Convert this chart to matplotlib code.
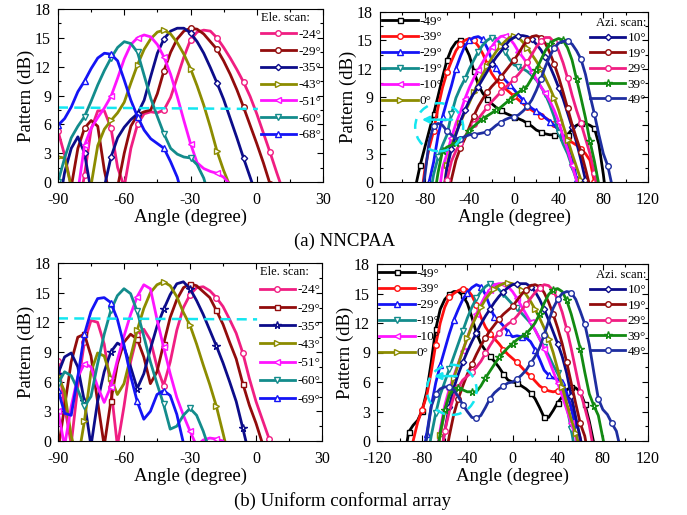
import numpy as np
import matplotlib
matplotlib.use('Agg')
import matplotlib.pyplot as plt
from matplotlib.patches import Ellipse

plt.rcParams['font.family'] = ['Liberation Serif', 'DejaVu Serif']
plt.rcParams['axes.unicode_minus'] = False

# ---------------- data ----------------
ELE_ANGLES = [-90, -87, -84, -81, -78, -75, -72, -69, -66, -63, -60, -57, -54, -51, -48,
              -45, -42, -39, -36, -33, -30, -27, -24, -21, -18, -15, -12, -9, -6, -3,
              0, 3, 6, 9, 12]

# (a) NNCPAA, elevation scan
TL_LABELS = ['-24°', '-29°', '-35°', '-43°', '-51°', '-60°', '-68°']
TL_M24 = [5.3, 2.8, -0.5, -3, 0.7, 5.5, 7.4, 7.4, 5.6, 1.5, -0.5, 3.5, 6.0, 7.1, 7.3, 7.2, 7.5, 8.8,
          10.9, 13.0, 14.8, 15.6, 15.8, 15.7, 15.0, 14.0, 12.9, 11.7, 10.4, 8.9, 7.1, 5.1, 3.1, 1.0, -1.0]
TL_M29 = [-3, -3, -0.5, 3.5, 5.6, 6.4, 5.8, 1.2, -2, -0.5, 3.0, 5.8, 7.0, 7.3, 7.5, 9.2, 11.6, 13.5,
          14.9, 15.7, 16.0, 15.9, 15.4, 14.6, 13.8, 12.6, 11.2, 9.6, 7.8, 5.9, 4.0, 2.0, -0.2, -2.5, -3]
TL_M35 = [-3, 1.0, 3.5, 4.7, 3.0, -1, -3, -0.5, 2.6, 4.6, 5.7, 6.5, 7.1, 8.5, 11.0, 13.4, 14.9, 15.7,
          16.0, 16.0, 15.5, 14.6, 13.4, 11.9, 10.3, 8.6, 6.6, 4.6, 2.5, 0.5, -1.5, -3, -3, -3, -3]
TL_M43 = [2.6, 2.5, -0.5, -3, -3, -0.3, 3.8, 5.5, 6.4, 7.2, 8.3, 10.3, 12.2, 13.8, 14.9, 15.6, 15.8, 15.4,
          14.5, 13.3, 11.8, 10.0, 8.0, 5.7, 3.2, 1.2, -0.5, -3, -3, -3, -3, -3, -3, -3, -3]
TL_M51 = [-3, -3, -3, -1.0, 3.8, 5.6, 6.7, 7.7, 8.9, 10.8, 12.8, 14.3, 15.0, 15.3, 15.1, 14.3, 13.0, 11.2,
          8.9, 6.4, 4.0, 2.0, 1.4, 1.1, 0.9, 0.5, -0.3, -2, -3, -3, -3, -3, -3, -3, -3]
TL_M60 = [0.0, 2.5, 4.6, 5.8, 6.8, 8.4, 10.1, 11.6, 12.9, 14.0, 14.6, 14.4, 13.5, 11.1, 8.7, 6.8, 5.0, 3.5,
          2.9, 2.6, 2.5, 1.8, 0.4, -2, -3, -3, -3, -3, -3, -3, -3, -3, -3, -3, -3]
TL_M68 = [5.9, 6.6, 7.8, 9.4, 10.5, 11.8, 12.9, 13.4, 13.3, 12.6, 10.6, 8.5, 6.8, 5.4, 4.5, 4.0, 3.5, 2.1,
          0.5, -2, -3, -3, -3, -3, -3, -3, -3, -3, -3, -3, -3, -3, -3, -3, -3]
TL_REF_X = [-90, 0.5]
TL_REF_Y = [7.75, 7.6]

# (b) Uniform conformal array, elevation scan
BL_LABELS = ['-24°', '-29°', '-35°', '-43°', '-51°', '-60°', '-69°']
BL_M24 = [8.1, 3.5, -0.3, 5.5, 10.0, 12.2, 12.0, 9.8, 5.5, -0.5, 3.5, 8.0, 10.7, 11.3, 10.2, 7.5, 5.6, 8.0,
          11.2, 13.5, 14.8, 15.5, 15.6, 15.2, 14.5, 13.6, 12.3, 10.9, 8.9, 6.3, 4.0, 2.1, 0.2, -2, -3]
BL_M29 = [-1, 3.5, 8.0, 10.5, 10.8, 8.6, 4.0, -0.5, 4.0, 7.8, 10.0, 10.8, 10.3, 8.5, 5.8, 7.0, 9.8, 12.5,
          14.3, 15.5, 15.9, 15.7, 15.1, 14.5, 13.2, 11.8, 10.0, 8.3, 5.8, 3.6, 1.8, -0.3, -3, -3, -3]
BL_M35 = [6.8, 8.5, 8.9, 7.5, 4.0, -0.5, 4.0, 7.0, 9.0, 9.9, 9.5, 7.5, 5.3, 6.8, 9.3, 11.6, 13.3, 14.8,
          15.9, 16.1, 15.4, 14.2, 12.8, 11.2, 9.6, 7.9, 6.0, 4.0, 1.3, -1.5, -3, -3, -3, -3, -3]
BL_M43 = [6.6, 5.0, 0.5, -2.0, 2.0, 7.0, 8.9, 8.6, 6.4, 4.7, 5.8, 8.5, 11.2, 13.4, 15.0, 15.8, 16.1, 15.7,
          14.6, 13.0, 11.7, 9.8, 7.7, 5.7, 3.5, 0.8, -2, -3, -3, -3, -3, -3, -3, -3, -3]
BL_M51 = [3.0, -0.5, 3.5, 6.5, 7.8, 7.5, 5.5, 3.9, 5.5, 8.2, 10.6, 12.8, 14.6, 15.8, 15.4, 12.3, 9.5, 6.8,
          4.4, 2.6, 1.0, -0.5, 0.1, 0.3, 0.2, 0.0, -1, -3, -3, -3, -3, -3, -3, -3, -3]
BL_M60 = [5.8, 7.0, 6.6, 5.2, 3.5, 4.5, 7.8, 10.8, 13.2, 14.7, 15.4, 14.9, 13.1, 10.6, 8.0, 5.8, 3.7, 1.2,
          1.5, 2.6, 3.3, 2.6, 1.0, -1, -3, -3, -3, -3, -3, -3, -3, -3, -3, -3, -3]
BL_M69 = [5.2, 2.8, 2.6, 6.5, 10.8, 13.1, 14.4, 14.5, 14.0, 12.3, 9.7, 6.6, 4.0, 2.2, 3.0, 4.7, 5.1, 4.6,
          2.7, -0.2, -3, -3, -3, -3, -3, -3, -3, -3, -3, -3, -3, -3, -3, -3, -3]
BL_REF_X = [-90, 0.5]
BL_REF_Y = [12.4, 12.3]

# azimuth scans: (first sampled angle, values every AZI_STEP degrees)
AZI_STEP = 4
AZI_LABELS = ['-49°', '-39°', '-29°', '-19°', '-10°', '0°', '10°', '19°', '29°', '39°', '49°']

TR_DATA = [
    (-88, [-0.4, 1.8, 3.6, 5.4, 7.2, 9.1, 11.1, 12.9, 14.1, 14.8, 15.0, 14.4, 13.4, 11.8, 10.3, 9.4, 8.8,
           8.3, 7.9, 7.6, 7.3, 7.1, 6.9, 6.7, 6.5, 6.2, 5.9, 5.5, 5.3, 5.1, 5.0, 5.0, 4.9, 4.8, 5.0, 5.6,
           6.0, 6.2, 6.2, 6.0, 5.7, 4.0, 0.8, -3]),
    (-84, [-2.5, 1.2, 3.6, 5.4, 7.9, 10.0, 11.6, 12.8, 13.9, 14.6, 15.0, 15.2, 15.0, 14.4, 13.6, 12.5,
           11.5, 10.8, 10.3, 9.9, 9.5, 9.1, 8.7, 8.3, 7.9, 7.6, 7.3, 7.0, 6.8, 6.5, 6.1, 5.5, 4.9, 4.5,
           4.2, 3.9, 3.5, 3.0, 2.3, 0.0, -3]),
    (-80, [-2, 0.0, 2.1, 4.9, 6.9, 8.6, 10.2, 12.0, 13.3, 14.4, 15.0, 15.3, 15.4, 15.1, 14.2, 13.0, 12.1,
           11.4, 10.8, 10.3, 9.8, 9.2, 8.7, 8.2, 7.8, 7.5, 7.2, 6.8, 6.4, 6.0, 5.5, 4.8, 4.0, 2.8, 0.3, -3]),
    (-76, [-2, 0.8, 2.6, 3.9, 5.0, 7.2, 8.9, 10.0, 10.9, 12.0, 12.9, 13.8, 14.5, 15.0, 15.3, 15.2, 14.6,
           13.8, 13.0, 12.4, 12.2, 12.0, 11.7, 11.3, 10.8, 10.1, 9.3, 8.2, 6.9, 5.2, 4.0, 3.0, 1.6, 0.2, -3]),
    (-68, [-2, 1.5, 3.0, 4.7, 6.2, 7.4, 8.8, 10.0, 11.0, 11.9, 12.7, 13.5, 14.3, 15.0, 15.4, 15.5, 15.2,
           14.6, 13.8, 13.2, 12.5, 11.7, 10.9, 10.1, 9.4, 8.6, 7.6, 6.4, 4.8, 3.4, 1.8, 0.2, -3]),
    (-64, [-2, 1.8, 3.8, 5.2, 6.3, 7.4, 8.4, 9.5, 10.5, 11.4, 12.3, 13.1, 13.8, 14.4, 14.9, 15.3, 15.5,
           15.3, 14.8, 14.2, 13.5, 12.8, 12.0, 11.0, 10.0, 8.9, 7.6, 6.0, 4.5, 3.0, 1.6, 0.2, -3]),
    (-64, [-2, 1.5, 3.5, 5.0, 6.4, 7.6, 8.6, 9.4, 10.1, 10.9, 11.7, 12.5, 13.2, 13.8, 14.4, 15.0, 15.3,
           15.5, 15.5, 15.4, 15.1, 14.6, 14.0, 13.2, 12.3, 11.2, 10.0, 8.8, 7.3, 5.8, 4.2, 2.3, 0.2, -3]),
    (-60, [-2, 0.3, 2.3, 3.6, 4.6, 5.8, 7.0, 8.0, 8.8, 9.5, 10.1, 10.6, 11.1, 11.7, 12.3, 12.9, 13.6,
           14.4, 15.0, 15.4, 15.5, 15.3, 14.7, 13.7, 12.5, 11.1, 9.5, 7.8, 6.1, 4.6, 3.2, 1.4, -0.5, -3]),
    (-64, [-2, 0.2, 2.2, 3.3, 4.1, 4.8, 5.5, 6.1, 6.7, 7.3, 7.9, 8.5, 9.0, 9.5, 10.0, 10.4, 10.9, 11.4,
           12.0, 12.7, 13.5, 14.3, 14.9, 15.3, 15.3, 14.8, 13.9, 12.6, 11.0, 9.2, 7.6, 6.2, 4.6, 3.0, 1.0,
           -2]),
    (-72, [-2, 1.0, 3.3, 3.7, 3.9, 4.1, 4.4, 4.8, 5.4, 5.9, 6.3, 6.7, 7.0, 7.3, 7.6, 7.9, 8.3, 8.7, 9.1,
           9.5, 9.8, 10.2, 11.0, 11.9, 12.9, 13.9, 14.6, 15.0, 15.2, 15.0, 14.2, 12.9, 10.9, 8.9, 6.8, 4.3,
           2.2, -0.3, -3]),
    (-84, [-2, 0.5, 4.3, 5.9, 6.2, 6.0, 5.4, 5.0, 4.6, 4.6, 4.8, 5.0, 5.0, 5.1, 5.2, 5.3, 5.6, 6.0, 6.3,
           6.6, 6.8, 6.9, 7.1, 7.5, 8.0, 8.7, 9.7, 10.9, 12.2, 13.3, 14.2, 14.7, 14.9, 14.9, 14.6, 13.9,
           13.0, 11.4, 9.2, 7.2, 5.0, 3.0, 1.7, -0.5, -3]),
]

BR_DATA = [
    (-96, [-2, 0.9, 1.6, 2.1, 3.1, 5.0, 8.0, 11.4, 13.4, 14.4, 14.9, 15.2, 15.2, 14.8, 14.0, 12.6, 11.0,
           9.9, 9.2, 8.6, 8.1, 7.5, 6.8, 6.2, 6.0, 5.9, 5.6, 5.3, 4.9, 4.3, 3.4, 2.4, 2.4, 3.1, 3.9, 4.5,
           5.2, 5.5, 5.4, 5.0, 3.8, 2.0, -0.2, -3]),
    (-92, [-3, 0.0, 1.9, 3.2, 4.6, 7.0, 9.8, 12.0, 13.6, 14.6, 15.0, 15.3, 15.5, 15.4, 14.8, 13.8, 12.6,
           11.6, 10.9, 10.4, 9.9, 9.3, 8.8, 8.4, 8.0, 7.5, 7.0, 6.6, 6.1, 5.6, 5.3, 5.1, 5.0, 5.1, 5.3, 4.6,
           3.5, 2.0, 0.3, -2]),
    (-80, [-2, 0.7, 3.5, 5.9, 7.7, 9.3, 10.9, 12.3, 13.4, 14.4, 15.1, 15.6, 15.9, 15.7, 14.9, 13.7, 12.6,
           12.2, 11.7, 11.1, 10.6, 10.7, 10.6, 10.5, 10.1, 9.3, 8.3, 7.2, 6.7, 6.4, 6.3, 6.0, 4.9, 3.4, 1.2,
           -2]),
    (-76, [-2, 0.5, 2.8, 4.7, 6.0, 7.3, 8.6, 9.9, 11.2, 12.5, 13.6, 14.5, 15.2, 15.7, 16.0, 15.9, 15.4,
           14.9, 14.4, 13.9, 13.5, 13.0, 12.5, 12.0, 11.3, 10.4, 9.6, 8.7, 7.7, 6.9, 5.8, 3.6, 1.2, -1.5]),
    (-68, [-2, 1.2, 3.6, 5.3, 6.6, 7.9, 9.2, 10.5, 11.8, 12.9, 13.9, 14.8, 15.4, 15.9, 16.0, 16.0, 15.7,
           15.2, 14.5, 13.7, 12.9, 12.1, 11.3, 10.4, 9.4, 8.3, 7.1, 5.9, 4.6, 3.2, 1.8, 0.4, -2]),
    (-68, [-2, 0.6, 3.0, 4.9, 6.4, 7.8, 9.2, 10.5, 11.7, 12.7, 13.6, 14.4, 15.0, 15.5, 15.8, 16.0, 16.1,
           16.0, 15.8, 15.4, 14.9, 14.2, 13.4, 12.5, 11.5, 10.4, 9.0, 7.3, 5.5, 3.8, 2.2, 0.8, -1]),
    (-64, [-2, 1.0, 3.5, 5.4, 6.8, 8.0, 9.1, 10.1, 11.0, 11.9, 12.7, 13.4, 14.1, 14.7, 15.2, 15.6, 15.9,
           16.0, 16.0, 16.0, 15.7, 15.2, 14.4, 13.4, 12.3, 11.1, 9.9, 8.6, 6.9, 4.6, 2.4, 0.3, -2]),
    (-60, [-2, 0.5, 2.7, 4.3, 5.6, 6.8, 7.8, 8.8, 9.7, 10.5, 11.2, 11.8, 12.4, 12.9, 13.3, 13.7, 14.3,
           14.9, 15.4, 15.8, 15.9, 15.7, 15.1, 14.1, 12.9, 11.5, 9.9, 8.0, 5.9, 3.8, 1.8, 0.5, -2]),
    (-64, [-2, 1.0, 3.0, 4.5, 5.5, 6.2, 6.6, 7.0, 7.5, 8.1, 8.9, 9.7, 10.4, 11.0, 11.5, 11.9, 12.2, 12.7,
           13.3, 13.9, 14.5, 15.1, 15.6, 15.9, 15.8, 15.3, 14.4, 13.1, 11.4, 9.4, 7.2, 5.0, 3.4, 1.6, -1]),
    (-68, [-2, 0.8, 3.2, 4.6, 5.3, 5.4, 5.2, 5.0, 5.0, 5.0, 5.6, 6.4, 7.1, 7.8, 8.5, 9.0, 9.5, 9.9, 10.3,
           10.6, 10.9, 11.4, 12.0, 12.9, 14.0, 14.9, 15.4, 15.5, 15.2, 14.3, 12.9, 11.2, 9.4, 7.0, 4.8, 3.6,
           2.6, 0.3, -2]),
    (-80, [-2, 0.3, 3.5, 4.8, 5.3, 5.5, 5.5, 5.2, 4.5, 3.7, 3.0, 2.4, 2.3, 2.6, 3.4, 4.3, 4.9, 5.3, 5.6,
           5.9, 6.0, 6.3, 6.7, 7.2, 7.9, 8.6, 9.5, 10.8, 12.2, 13.5, 14.4, 15.0, 15.2, 15.1, 14.4, 13.2,
           11.9, 9.8, 7.0, 4.3, 3.2, 2.7, 1.8, 1.0, -1]),
]

# annotation geometry (data units)
TR_ELLIPSE = (-67.0, 5.8, 43.0, 5.1)
TR_ARROW = ((-53.0, 6.6), (-85.0, 6.6))
BR_ELLIPSE = (-53.8, 5.2, 44.0, 5.1)
BR_ARROW = ((-47.0, 6.6), (-72.0, 6.6))

# ---------------- styles ----------------
PINK = '#F01E82'
DRED = '#920C0C'
NAVY = '#0C0C8A'
OLIVE = '#8C8C00'
MAG = '#FF14FF'
TEAL = '#138C8C'
BLUE = '#1414F5'
BLACK = '#000000'
RED = '#FF1010'
GREEN = '#128A12'
DBLUE = '#1E2EA0'
CYAN = '#14E6F0'

TL_STY = [(PINK, 'o'), (DRED, 'o'), (NAVY, 'D'), (OLIVE, '>'), (MAG, '<'), (TEAL, 'v'), (BLUE, '^')]
BL_STY = [(PINK, 'o'), (DRED, 's'), (NAVY, '*'), (OLIVE, '>'), (MAG, '<'), (TEAL, 'v'), (BLUE, '^')]
AZ_STY = [(BLACK, 's', 1), (RED, 'o', 0), (BLUE, '^', 1), (TEAL, 'v', 2), (MAG, '<', 0), (OLIVE, '>', 1),
          (NAVY, 'D', 2), (DRED, 'o', 0), (PINK, 'o', 1), (GREEN, '*', 2), (DBLUE, 'o', 0)]

LW = 2.0


def curve(ax, x, y, color, marker, label, every):
    ms = 3.2 if marker == 'D' else (5.5 if marker == '*' else (3.6 if marker == 's' else 4.0))
    return ax.plot(x, y, color=color, lw=LW, marker=marker, ms=ms, mfc='white', mec=color,
                   mew=1.0, markevery=every, label=label, solid_joinstyle='round')[0]


def style(ax, xlim, xmaj, xmin):
    ax.set_xlim(*xlim)
    ax.set_ylim(0, 18)
    ax.set_xticks(xmaj)
    ax.set_xticks(xmin, minor=True)
    ax.set_yticks([0, 3, 6, 9, 12, 15, 18])
    ax.set_yticks([1.5, 4.5, 7.5, 10.5, 13.5, 16.5], minor=True)
    ax.tick_params(which='both', direction='in', top=True, right=True, labelsize=11.5)
    ax.tick_params(axis='x', which='major', pad=7.5)
    ax.tick_params(axis='y', which='major', pad=5)
    ax.tick_params(which='major', length=4, width=0.8)
    ax.tick_params(which='minor', length=2, width=0.8)
    for s in ax.spines.values():
        s.set_linewidth(0.8)
    ax.set_xlabel('Angle (degree)', fontsize=13.5, labelpad=0.5)
    ax.set_ylabel('Pattern (dB)', fontsize=13.5, labelpad=0)


fig = plt.figure(figsize=(6.87, 5.15), dpi=100)
ax_tl = fig.add_axes([58 / 687, 1 - 182 / 515, 265 / 687, 173 / 515])
ax_tr = fig.add_axes([380 / 687, 1 - 182 / 515, 268 / 687, 170 / 515])
ax_bl = fig.add_axes([58 / 687, 1 - 441 / 515, 264 / 687, 178 / 515])
ax_br = fig.add_axes([377 / 687, 1 - 441 / 515, 271 / 687, 177 / 515])

# ---- elevation panels ----
for ax, labels, series, sty, refx, refy, lsp in [
        (ax_tl, TL_LABELS, [TL_M24, TL_M29, TL_M35, TL_M43, TL_M51, TL_M60, TL_M68], TL_STY, TL_REF_X, TL_REF_Y, 0.34),
        (ax_bl, BL_LABELS, [BL_M24, BL_M29, BL_M35, BL_M43, BL_M51, BL_M60, BL_M69], BL_STY, BL_REF_X, BL_REF_Y, 0.45)]:
    style(ax, (-90, 30), [-90, -60, -30, 0, 30], [-75, -45, -15, 15])
    hs = []
    for lab, vals, (c, m) in zip(labels, series, sty):
        hs.append(curve(ax, ELE_ANGLES, vals, c, m, lab, (0, 4)))
    ax.plot(refx, refy, color=CYAN, lw=1.8, ls=(0, (4, 2.5)))
    ax.legend(handles=hs, loc='upper right', bbox_to_anchor=(1.005, 1.0), frameon=False,
              title='Ele. scan:', fontsize=9.5, title_fontsize=9, handlelength=2.7,
              handletextpad=0.15, labelspacing=lsp, borderpad=0.15, borderaxespad=0.1,
              alignment='left', numpoints=1)

# ---- azimuth panels ----
for ax, data, ell, arr in [(ax_tr, TR_DATA, TR_ELLIPSE, TR_ARROW), (ax_br, BR_DATA, BR_ELLIPSE, BR_ARROW)]:
    style(ax, (-120, 120), [-120, -80, -40, 0, 40, 80, 120], [-100, -60, -20, 20, 60, 100])
    hs = []
    for lab, (start, vals), (c, m, off) in zip(AZI_LABELS, data, AZ_STY):
        x = start + AZI_STEP * np.arange(len(vals))
        hs.append(curve(ax, x, vals, c, m, lab, (off, 3)))
    cx, cy, w, h = ell
    ax.add_patch(Ellipse((cx, cy), w, h, fill=False, ec=CYAN, lw=1.8, ls=(0, (4, 3)), zorder=5))
    ax.annotate('', xy=arr[1], xytext=arr[0],
                arrowprops=dict(arrowstyle='-|>', color=CYAN, lw=1.8, mutation_scale=10), zorder=6)
    leg1 = ax.legend(handles=hs[:6], loc='upper left', bbox_to_anchor=(-0.005, 1.0), frameon=False,
                     fontsize=9.5, handlelength=2.7, handletextpad=0.15, labelspacing=0.28,
                     borderpad=0.15, borderaxespad=0.1, numpoints=1)
    ax.add_artist(leg1)
    ax.legend(handles=hs[6:], loc='upper right', bbox_to_anchor=(1.005, 0.99), frameon=False,
              title='Azi. scan:', fontsize=9.5, title_fontsize=9, handlelength=2.7,
              handletextpad=0.15, labelspacing=0.24, borderpad=0.15, borderaxespad=0.1,
              alignment='right', numpoints=1)

fig.text(345 / 687, 1 - 241 / 515, '(a) NNCPAA', ha='center', va='center', fontsize=13.5)
fig.text(343 / 687, 1 - 501 / 515, '(b) Uniform conformal array', ha='center', va='center', fontsize=13.5)

fig.savefig('out.png', dpi=100)
